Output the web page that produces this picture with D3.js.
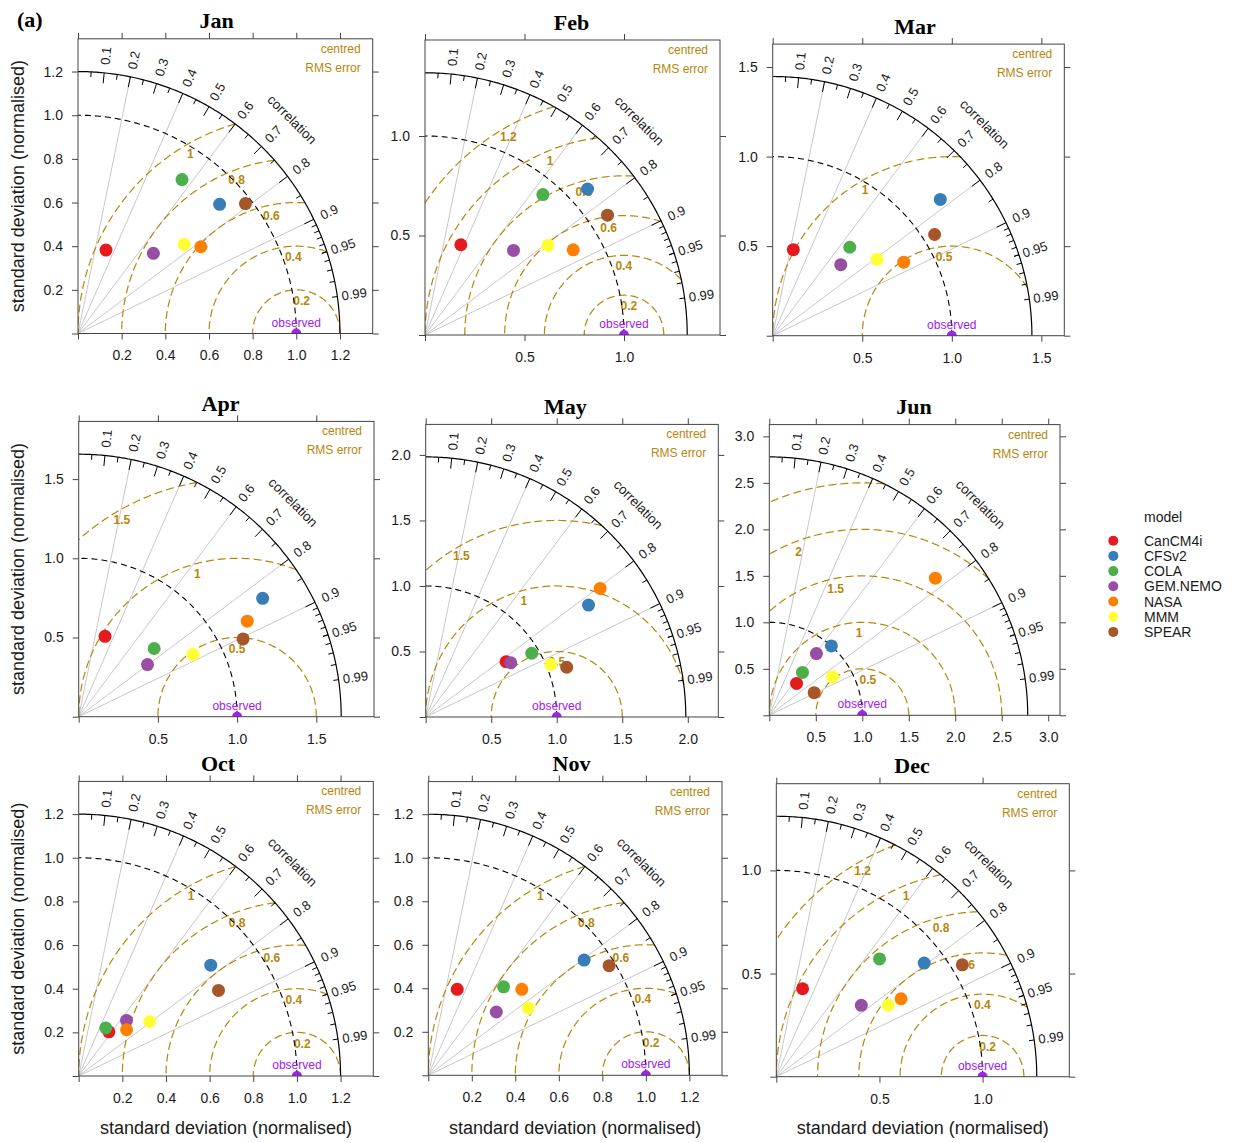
<!DOCTYPE html>
<html><head><meta charset="utf-8">
<script src="https://cdn.jsdelivr.net/npm/d3@7"></script>
<style>body{margin:0;background:#fff}</style>
</head><body>
<svg id="chart" width="1233" height="1143"></svg>
<script>
// ---------------- DATA ----------------
const months = ["Jan","Feb","Mar","Apr","May","Jun","Oct","Nov","Dec"];
const models = ["CanCM4i","CFSv2","COLA","GEM.NEMO","NASA","MMM","SPEAR"];
const modelColors = ["#E41A1C","#377EB8","#4DAF4A","#984EA3","#FF7F00","#FFFF33","#A65628"];

// normalised standard deviation and correlation, model order as above
const sdJan  = [0.403, 0.878, 0.851, 0.504, 0.689, 0.635, 0.971];
const corJan = [0.318, 0.739, 0.560, 0.685, 0.817, 0.766, 0.790];
const sdFeb  = [0.488, 1.098, 0.921, 0.615, 0.859, 0.764, 1.097];
const corFeb = [0.369, 0.744, 0.643, 0.723, 0.867, 0.808, 0.836];
const sdMar  = [0.494, 1.206, 0.655, 0.549, 0.839, 0.722, 1.066];
const corMar = [0.233, 0.776, 0.657, 0.692, 0.872, 0.807, 0.848];
const sdApr  = [0.534, 1.381, 0.642, 0.545, 1.223, 0.822, 1.148];
const corApr = [0.311, 0.841, 0.742, 0.797, 0.870, 0.878, 0.904];
const sdMay  = [0.744, 1.508, 0.944, 0.770, 1.654, 1.035, 1.141];
const corMay = [0.824, 0.824, 0.857, 0.843, 0.805, 0.922, 0.943];
const sdJun  = [0.451, 1.001, 0.583, 0.835, 2.316, 0.795, 0.540];
const corJun = [0.650, 0.667, 0.612, 0.607, 0.771, 0.854, 0.893];
const sdOct  = [0.245, 0.790, 0.253, 0.336, 0.305, 0.410, 0.751];
const corOct = [0.564, 0.766, 0.491, 0.652, 0.719, 0.793, 0.853];
const sdNov  = [0.417, 0.891, 0.534, 0.427, 0.584, 0.554, 0.972];
const corNov = [0.319, 0.804, 0.648, 0.732, 0.736, 0.830, 0.855];
const sdDec  = [0.445, 0.904, 0.759, 0.538, 0.713, 0.644, 1.052];
const corDec = [0.286, 0.793, 0.659, 0.766, 0.848, 0.843, 0.857];

// axis tick values
const ticks02 = [0, 0.2, 0.4, 0.6, 0.8, 1.0, 1.2];
const ticks05a = [0, 0.5, 1.0];
const ticks05b = [0, 0.5, 1.0, 1.5];
const ticks05c = [0, 0.5, 1.0, 1.5, 2.0];
const ticks05d = [0, 0.5, 1.0, 1.5, 2.0, 2.5, 3.0];

// centred RMS error contour levels
const rmsA = [0.2, 0.4, 0.6, 0.8, 1];
const rmsB = [0.2, 0.4, 0.6, 0.8, 1, 1.2];
const rmsC = [0.5, 1];
const rmsD = [0.5, 1, 1.5];
const rmsE = [0.5, 1, 1.5, 2, 2.5];

// correlation axis
const corrBigTicks = [0.1,0.2,0.3,0.4,0.5,0.6,0.7,0.8,0.9];
const corrMedTicks = [0.05,0.15,0.25,0.35,0.45,0.55,0.65,0.75,0.85,0.95];
const corrSmallTicks = [0.91,0.92,0.93,0.94,0.95,0.96,0.97,0.98,0.99];
const corrLabels = [0.1,0.2,0.3,0.4,0.5,0.6,0.7,0.8,0.9,0.95,0.99];
const corrLines = [0.2,0.4,0.6,0.8,0.9];

const panelSd  = [sdJan, sdFeb, sdMar, sdApr, sdMay, sdJun, sdOct, sdNov, sdDec];
const panelCor = [corJan, corFeb, corMar, corApr, corMay, corJun, corOct, corNov, corDec];
const panelTicks = [ticks02, ticks05a, ticks05b, ticks05b, ticks05c, ticks05d, ticks02, ticks02, ticks05a];
const panelRms = [rmsA, rmsB, rmsC, rmsD, rmsD, rmsE, rmsA, rmsA, rmsB];

// ---------------- LAYOUT ----------------
const layout = [
  {left:78,    bottom:333.5,  size:294.7, tx:216.5},
  {left:425,   bottom:335,    size:295,   tx:571.5},
  {left:772.7, bottom:335.7,  size:291.6, tx:915},
  {left:78.7,  bottom:716.7,  size:295.3, tx:220.5},
  {left:425.7, bottom:717,    size:292.6, tx:565.5},
  {left:769.3, bottom:715.3,  size:290.7, tx:914},
  {left:78.7,  bottom:1076,   size:294.6, tx:218},
  {left:428.3, bottom:1075.3, size:293.7, tx:571.5},
  {left:776.3, bottom:1076.7, size:293,   tx:912}
];

const SANS = "'Liberation Sans', Arial, sans-serif";
const SERIF = "'Liberation Serif', 'Times New Roman', serif";
const GOLD = "#B8860B";
const OBS = "#A020F0";

const svg = d3.select("#chart");
const defs = svg.append("defs");
const fmt1 = d3.format(".1f");

months.forEach((m, i) => {
  const p = layout[i];
  const sd = panelSd[i], cor = panelCor[i];
  const rmax = 1.2 * Math.max(1, d3.max(sd));
  const ext = rmax * 1.125;
  const x = d3.scaleLinear().domain([0, ext]).range([p.left, p.left + p.size]);
  const y = d3.scaleLinear().domain([0, ext]).range([p.bottom, p.bottom - p.size]);
  const top = p.bottom - p.size;
  const right = p.left + p.size;
  const polar = (r, a) => [x(r * Math.cos(a)), y(r * Math.sin(a))];
  const line = d3.line().x(d => x(d[0])).y(d => y(d[1]));

  const clipId = "clip" + m;
  defs.append("clipPath").attr("id", clipId).append("rect")
    .attr("x", p.left).attr("y", top).attr("width", p.size).attr("height", p.size);

  const g = svg.append("g");
  const inner = g.append("g").attr("clip-path", `url(#${clipId})`);

  // correlation grey lines
  corrLines.forEach(c => {
    const [px, py] = polar(rmax, Math.acos(c));
    inner.append("line").attr("x1", x(0)).attr("y1", y(0)).attr("x2", px).attr("y2", py)
      .attr("stroke", "#c8c8c8").attr("stroke-width", 1);
  });

  // centred RMS error arcs
  const rmsLevels = panelRms[i];
  const n = rmsLevels.length;
  const span = n > 1 ? Math.min(36, 24 + 5 * (n - 2)) : 0;
  rmsLevels.forEach((gm, k) => {
    const c0 = (rmax * rmax - 1 - gm * gm) / (2 * gm);
    if (c0 < -1) return;
    const t0 = c0 >= 1 ? 0 : Math.acos(c0);
    const t1 = gm <= 1 ? Math.PI : Math.acos(-1 / gm);
    const pts = d3.range(0, 241).map(j => {
      const t = t0 + (t1 - t0) * j / 240;
      return [1 + gm * Math.cos(t), gm * Math.sin(t)];
    });
    inner.append("path").attr("d", line(pts)).attr("fill", "none")
      .attr("stroke", GOLD).attr("stroke-width", 1.2).attr("stroke-dasharray", "8,4");
    // label
    const th = (119 - (n - 1 - k) * (n > 1 ? span / (n - 1) : 0)) * Math.PI / 180;
    const lx = 1 + gm * Math.cos(th), ly = gm * Math.sin(th);
    if (lx > 0.02 && Math.hypot(lx, ly) < rmax) {
      inner.append("text").attr("x", x(lx)).attr("y", y(ly) + 11)
        .attr("text-anchor", "middle").attr("dominant-baseline", "central")
        .attr("font-family", SANS).attr("font-size", 12).attr("font-weight", "bold")
        .attr("fill", GOLD).text(String(gm));
    }
  });

  // observed SD arc and outer arc
  const quarter = r => d3.range(0, 181).map(j => {
    const a = Math.PI / 2 * j / 180;
    return [r * Math.cos(a), r * Math.sin(a)];
  });
  inner.append("path").attr("d", line(quarter(1))).attr("fill", "none")
    .attr("stroke", "#000").attr("stroke-width", 1.1).attr("stroke-dasharray", "6,4");
  inner.append("path").attr("d", line(quarter(rmax))).attr("fill", "none")
    .attr("stroke", "#000").attr("stroke-width", 1.2);

  // correlation ticks
  const tick = (c, f) => {
    const a = Math.acos(c);
    const [x1, y1] = polar(rmax, a), [x2, y2] = polar(rmax * f, a);
    inner.append("line").attr("x1", x1).attr("y1", y1).attr("x2", x2).attr("y2", y2)
      .attr("stroke", "#000").attr("stroke-width", 1);
  };
  corrBigTicks.forEach(c => tick(c, 0.96));
  corrMedTicks.forEach(c => tick(c, 0.98));
  corrSmallTicks.forEach(c => tick(c, 0.98));

  // correlation labels
  corrLabels.forEach(c => {
    const a = Math.acos(c);
    const [px, py] = polar(rmax * 1.065, a);
    inner.append("text").attr("transform", `translate(${px},${py}) rotate(${-a * 180 / Math.PI})`)
      .attr("text-anchor", "middle").attr("dominant-baseline", "central")
      .attr("font-family", SANS).attr("font-size", 13).attr("fill", "#1a1a1a").text(String(c));
  });
  {
    const [px, py] = polar(rmax * 1.155, Math.PI / 4);
    inner.append("text").attr("transform", `translate(${px},${py}) rotate(45)`)
      .attr("text-anchor", "middle").attr("dominant-baseline", "central")
      .attr("font-family", SANS).attr("font-size", 13.5).attr("fill", "#1a1a1a").text("correlation");
  }

  // centred RMS error caption
  inner.append("text").attr("x", right - 12).attr("y", top + 14).attr("text-anchor", "end")
    .attr("font-family", SANS).attr("font-size", 12).attr("fill", GOLD).text("centred");
  inner.append("text").attr("x", right - 12).attr("y", top + 33).attr("text-anchor", "end")
    .attr("font-family", SANS).attr("font-size", 12).attr("fill", GOLD).text("RMS error");

  // observed
  inner.append("circle").attr("cx", x(1)).attr("cy", y(0)).attr("r", 5).attr("fill", OBS);
  inner.append("text").attr("x", x(1)).attr("y", y(0) - 7).attr("text-anchor", "middle")
    .attr("font-family", SANS).attr("font-size", 12).attr("fill", OBS).text("observed");

  // model points
  sd.forEach((s, k) => {
    const a = Math.acos(cor[k]);
    const [px, py] = polar(s, a);
    inner.append("circle").attr("cx", px).attr("cy", py).attr("r", 6.5).attr("fill", modelColors[k]);
  });

  // axes
  const tv = panelTicks[i];
  const lab = d => d === 0 ? "" : fmt1(d);
  const styleAxis = sel => {
    sel.select(".domain").remove();
    sel.selectAll("line").attr("stroke", "#444");
    sel.selectAll("text").attr("font-family", SANS).attr("font-size", 14).attr("fill", "#1a1a1a");
  };
  g.append("g").attr("transform", `translate(0,${p.bottom})`)
    .call(d3.axisBottom(x).tickValues(tv).tickSize(6).tickPadding(11).tickFormat(lab)).call(styleAxis);
  g.append("g").attr("transform", `translate(${p.left},0)`)
    .call(d3.axisLeft(y).tickValues(tv).tickSize(6).tickPadding(9).tickFormat(lab)).call(styleAxis);
  g.append("g").attr("transform", `translate(0,${top})`)
    .call(d3.axisTop(x).tickValues(tv).tickSize(6).tickFormat(() => "")).call(styleAxis);
  g.append("g").attr("transform", `translate(${right},0)`)
    .call(d3.axisRight(y).tickValues(tv).tickSize(6).tickFormat(() => "")).call(styleAxis);

  g.append("rect").attr("x", p.left).attr("y", top).attr("width", p.size).attr("height", p.size)
    .attr("fill", "none").attr("stroke", "#444").attr("stroke-width", 1);

  // title
  svg.append("text").attr("x", p.tx).attr("y", top - 10.5).attr("text-anchor", "middle")
    .attr("font-family", SERIF).attr("font-weight", "bold").attr("font-size", 22).attr("fill", "#000").text(m);

  // axis titles
  if (i % 3 === 0) {
    svg.append("text").attr("transform", `translate(18,${(top + p.bottom) / 2}) rotate(-90)`)
      .attr("text-anchor", "middle").attr("dominant-baseline", "central")
      .attr("font-family", SANS).attr("font-size", 18).attr("fill", "#1a1a1a")
      .text("standard deviation (normalised)");
  }
  if (i >= 6) {
    svg.append("text").attr("x", (p.left + right) / 2).attr("y", 1134).attr("text-anchor", "middle")
      .attr("font-family", SANS).attr("font-size", 18).attr("fill", "#1a1a1a")
      .text("standard deviation (normalised)");
  }
});

// panel tag
svg.append("text").attr("x", 17).attr("y", 26.5).attr("font-family", SERIF).attr("font-weight", "bold")
  .attr("font-size", 22).attr("fill", "#000").text("(a)");

// legend
const leg = svg.append("g");
leg.append("text").attr("x", 1144).attr("y", 517).attr("dominant-baseline", "central")
  .attr("font-family", SANS).attr("font-size", 14).attr("fill", "#1a1a1a").text("model");
models.forEach((name, k) => {
  const yy = 540.7 + k * 15.2;
  leg.append("circle").attr("cx", 1113.3).attr("cy", yy).attr("r", 5).attr("fill", modelColors[k]);
  leg.append("text").attr("x", 1144).attr("y", yy).attr("dominant-baseline", "central")
    .attr("font-family", SANS).attr("font-size", 14).attr("fill", "#1a1a1a").text(name);
});
</script>
</body></html>
